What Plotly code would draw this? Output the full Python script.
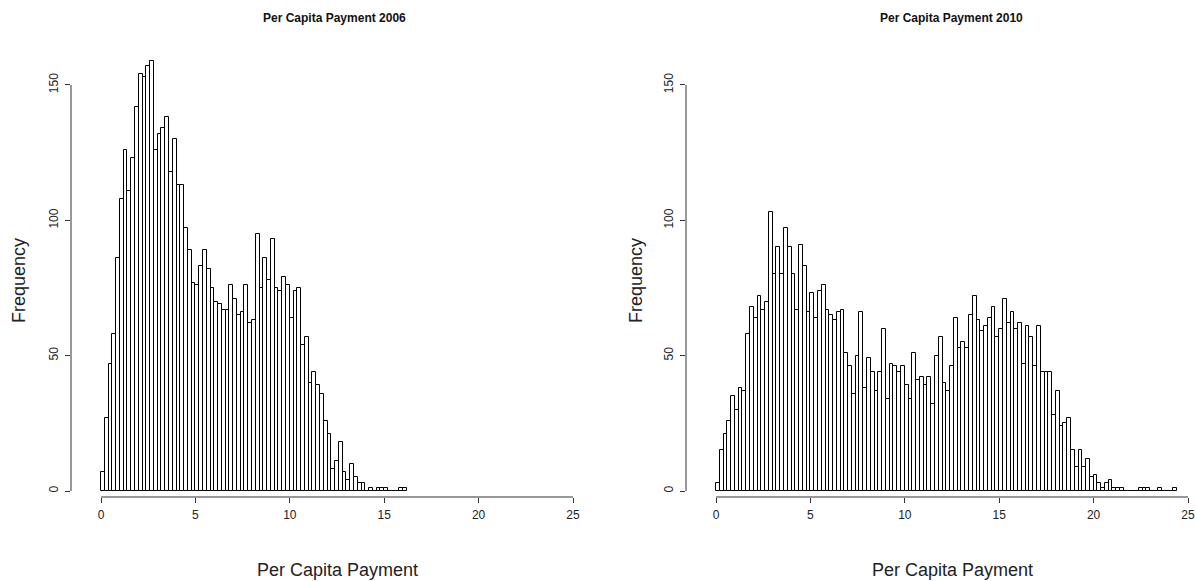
import numpy as np
import plotly.graph_objects as go

# ---- data ----
bin_width = 0.2
counts_2006 = [7, 27, 47, 58, 86, 108, 126, 111, 123, 142, 154, 153, 157, 159, 126, 132,
               134, 138, 118, 130, 113, 113, 97, 89, 77, 76, 83, 89, 82, 75, 70, 69,
               67, 67, 76, 71, 65, 66, 76, 62, 63, 95, 75, 86, 78, 93, 75, 74,
               79, 76, 64, 74, 75, 54, 57, 40, 44, 39, 36, 26, 21, 8, 11, 18,
               7, 4, 10, 5, 3, 3, 0, 1, 0, 1, 1, 1, 0, 0, 0, 1, 1]
counts_2010 = [3, 15, 21, 26, 35, 30, 38, 37, 58, 68, 64, 72, 67, 70, 103, 80,
               90, 80, 97, 90, 80, 67, 91, 83, 66, 73, 64, 74, 76, 67, 65, 63,
               66, 67, 51, 46, 36, 50, 66, 38, 49, 44, 37, 44, 60, 34, 47, 46,
               44, 46, 39, 34, 51, 41, 42, 39, 42, 32, 50, 57, 40, 37, 46, 64,
               53, 55, 53, 65, 72, 63, 59, 61, 64, 68, 57, 60, 71, 62, 66, 60,
               62, 47, 61, 57, 46, 61, 44, 44, 44, 28, 37, 24, 25, 27, 15, 9,
               15, 9, 12, 5, 6, 3, 1, 3, 4, 1, 1, 1, 0, 0, 0, 0, 1, 1, 1, 0,
               0, 1, 0, 0, 0, 1]
titles = ["Per Capita Payment 2006", "Per Capita Payment 2010"]
x_title = "Per Capita Payment"
y_title = "Frequency"
x_ticks = [0, 5, 10, 15, 20, 25]
y_ticks = [0, 50, 100, 150]

W, H = 1195, 581
FONT = "Liberation Sans, Arial, Helvetica, sans-serif"

def fx(px):
    return px / W

def fy(py):
    return 1 - py / H

PX_PER_X = 18.88
PX_PER_Y = 2.7067
Y0_PX = 491          # pixel row of frequency 0
AXIS_Y_PX = 497      # pixel row of x axis line
TOP_PX = 50

panels = [
    dict(counts=counts_2006, zero_px=101, left_px=71, right_px=600, title_x=334, ytitle_x=19),
    dict(counts=counts_2010, zero_px=716, left_px=686, right_px=1194, title_x=951, ytitle_x=636),
]

fig = go.Figure()
shapes = []
annotations = []

for i, p in enumerate(panels):
    n = len(p["counts"])
    centers = (np.arange(n) + 0.5) * bin_width
    xa = "x" if i == 0 else "x2"
    ya = "y" if i == 0 else "y2"
    fig.add_trace(go.Bar(
        x=centers, y=p["counts"], width=bin_width,
        marker=dict(color="white", line=dict(color="black", width=1)),
        xaxis=xa, yaxis=ya, showlegend=False, hoverinfo="x+y",
    ))
    xr = [(p["left_px"] - p["zero_px"]) / PX_PER_X, (p["right_px"] - p["zero_px"]) / PX_PER_X]
    yr = [(Y0_PX - AXIS_Y_PX) / PX_PER_Y, (Y0_PX - TOP_PX) / PX_PER_Y]
    axis_common = dict(showgrid=False, zeroline=False, showline=False,
                       ticks="outside", ticklen=5, tickwidth=1, tickcolor="#333",
                       ticklabelstandoff=2,
                       tickfont=dict(family=FONT, size=12, color="#222"))
    xkey = "xaxis" if i == 0 else "xaxis2"
    ykey = "yaxis" if i == 0 else "yaxis2"
    fig.update_layout(**{
        xkey: dict(domain=[fx(p["left_px"]), fx(p["right_px"])], range=xr,
                   tickvals=x_ticks, anchor=ya, fixedrange=True, **axis_common),
        ykey: dict(domain=[fy(AXIS_Y_PX), fy(TOP_PX)], range=yr,
                   tickvals=y_ticks, anchor=xa, tickangle=-90, fixedrange=True, **axis_common),
    })
    xref = "x" if i == 0 else "x2"
    yref = "y" if i == 0 else "y2"
    # R-style axis lines spanning only first to last tick
    shapes.append(dict(type="line", xref=xref, yref=yref + " domain",
                       x0=x_ticks[0], x1=x_ticks[-1], y0=0, y1=0,
                       line=dict(color="#333", width=1)))
    shapes.append(dict(type="line", xref=xref + " domain", yref=yref,
                       x0=0, x1=0, y0=y_ticks[0], y1=y_ticks[-1],
                       line=dict(color="#333", width=1)))
    annotations.append(dict(text="<b>" + titles[i] + "</b>", xref="paper", yref="paper",
                            x=fx(p["title_x"]), y=fy(18), xanchor="center", yanchor="middle",
                            showarrow=False, font=dict(family=FONT, size=12, color="#111")))
    annotations.append(dict(text=x_title, xref="paper", yref="paper",
                            x=fx(p["zero_px"] + 12.5 * PX_PER_X), y=fy(570),
                            xanchor="center", yanchor="middle", showarrow=False,
                            font=dict(family=FONT, size=18, color="#222")))
    annotations.append(dict(text=y_title, xref="paper", yref="paper", textangle=-90,
                            x=fx(p["ytitle_x"]), y=fy(281), xanchor="center", yanchor="middle",
                            showarrow=False, font=dict(family=FONT, size=18, color="#222")))

fig.update_layout(width=W, height=H, margin=dict(l=0, r=0, t=0, b=0),
                  paper_bgcolor="white", plot_bgcolor="white",
                  bargap=0, shapes=shapes, annotations=annotations)

# remove the default 8px page margin so the figure fills the window exactly
fig.write_html("out.html", config={"displayModeBar": False},
               post_script="document.body.style.margin='0';document.body.style.overflow='hidden';")
